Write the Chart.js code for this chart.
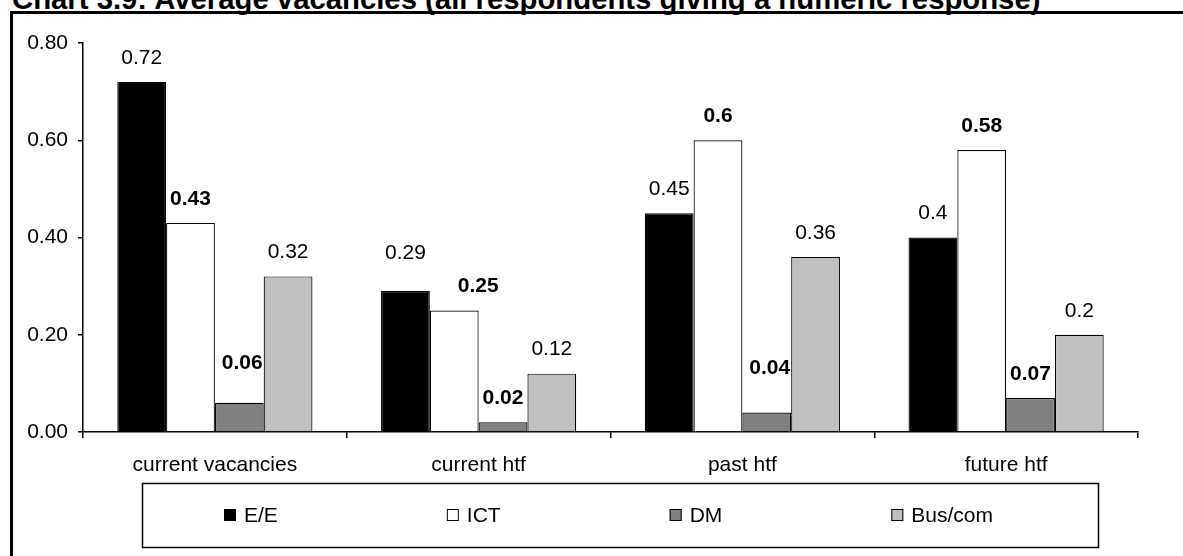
<!DOCTYPE html>
<html><head><meta charset="utf-8">
<script src="https://cdn.jsdelivr.net/npm/chart.js@4/dist/chart.umd.min.js"></script>
<style>
html,body{margin:0;padding:0;background:#fff;overflow:hidden;}
#wrap{position:relative;width:1183px;height:556px;overflow:hidden;background:#fff;}
#title{position:absolute;left:12px;top:-18px;font:bold 29.3px "Liberation Sans",Arial,sans-serif;white-space:nowrap;color:#000;line-height:34px;}
#frame{position:absolute;left:10px;top:11px;width:1300px;height:700px;border-left:3px solid #000;border-top:3px solid #000;}
canvas{position:absolute;left:0;top:0;}
</style></head>
<body><div id="wrap"><div id="title">Chart 3.9: Average vacancies (all respondents giving a numeric response)</div><div id="frame"></div><canvas id="c" width="1183" height="556"></canvas></div>
<script>
const categories = ['current vacancies', 'current htf', 'past htf', 'future htf'];
const seriesNames = ['E/E', 'ICT', 'DM', 'Bus/com'];
const eeValues = [0.72, 0.29, 0.45, 0.4];
const ictValues = [0.43, 0.25, 0.6, 0.58];
const dmValues = [0.06, 0.02, 0.04, 0.07];
const busValues = [0.32, 0.12, 0.36, 0.2];
const yTickValues = [0, 0.2, 0.4, 0.6, 0.8];

const FONT = '"Liberation Sans", Arial, sans-serif';
const FS = 21;
const seriesStyles = [
  {bg: '#000000', bold: false},
  {bg: '#ffffff', bold: true},
  {bg: '#808080', bold: true},
  {bg: '#c0c0c0', bold: false}
];
const seriesValues = [eeValues, ictValues, dmValues, busValues];

// extra nudges for individual value labels: key "dataset-index" -> [dx, extra dy]
const labelNudges = {'0-1': [0, -14], '2-0': [3, -16], '2-2': [3, -20], '1-1': [24, 0]};

const valueLabels = {
  id: 'valueLabels',
  afterDatasetsDraw(chart) {
    const ctx = chart.ctx;
    ctx.save();
    ctx.fillStyle = '#000';
    ctx.textAlign = 'center';
    ctx.textBaseline = 'middle';
    chart.data.datasets.forEach((ds, di) => {
      const meta = chart.getDatasetMeta(di);
      ctx.font = (ds.labelBold ? 'bold ' : '') + FS + 'px ' + FONT;
      meta.data.forEach((bar, i) => {
        const n = labelNudges[di + '-' + i] || [0, 0];
        ctx.fillText(String(ds.data[i]), bar.x + n[0], bar.y - 24 + n[1]);
      });
    });
    ctx.restore();
  }
};

const boxedLegend = {
  id: 'boxedLegend',
  afterDraw(chart) {
    const ctx = chart.ctx;
    const left = chart.chartArea.left + 59, top = 483, w = 956, h = 64;
    ctx.save();
    ctx.strokeStyle = '#000';
    ctx.lineWidth = 1.5;
    ctx.strokeRect(left + 0.5, top + 0.5, w, h);
    ctx.font = FS + 'px ' + FONT;
    ctx.textBaseline = 'middle';
    ctx.textAlign = 'left';
    const cy = top + h / 2;
    const box = 12, gap = 169;
    let x = left + 82;
    chart.data.datasets.forEach((ds) => {
      ctx.fillStyle = ds.backgroundColor;
      ctx.fillRect(x, cy - box / 2, box, box);
      ctx.lineWidth = 1;
      ctx.strokeRect(x + 0.5, cy - box / 2 + 0.5, box - 1, box - 1);
      ctx.fillStyle = '#000';
      ctx.fillText(ds.label, x + box + 8, cy + 1);
      x += box + 8 + ctx.measureText(ds.label).width + gap;
    });
    ctx.restore();
  }
};

const datasets = seriesNames.map((name, k) => ({
  label: name,
  data: seriesValues[k],
  backgroundColor: seriesStyles[k].bg,
  borderColor: '#000',
  borderWidth: 1.2,
  labelBold: seriesStyles[k].bold,
  categoryPercentage: 0.74,
  barPercentage: 1.0
}));

new Chart(document.getElementById('c'), {
  type: 'bar',
  data: {labels: categories, datasets},
  options: {
    responsive: false,
    animation: false,
    devicePixelRatio: 1,
    layout: {padding: {top: 43, right: 45, left: 0, bottom: 0}},
    plugins: {legend: {display: false}, title: {display: false}, tooltip: {enabled: false}},
    scales: {
      y: {
        min: 0, max: 0.8,
        afterFit(scale) { scale.width = 83; },
        afterBuildTicks(scale) { scale.ticks = yTickValues.map(v => ({value: v})); },
        ticks: {
          color: '#000', font: {family: FONT, size: FS}, padding: 10,
          callback: v => Number(v).toFixed(2)
        },
        grid: {drawOnChartArea: false, drawTicks: true, tickLength: 5, color: '#000', lineWidth: 1.5},
        border: {display: true, color: '#000', width: 1.5}
      },
      x: {
        afterFit(scale) { scale.height = 124; },
        ticks: {color: '#000', font: {family: FONT, size: FS}, padding: 15, maxRotation: 0},
        grid: {offset: true, drawOnChartArea: false, drawTicks: true, tickLength: 6, color: '#000', lineWidth: 1.5},
        border: {display: true, color: '#000', width: 1.5}
      }
    }
  },
  plugins: [valueLabels, boxedLegend]
});
</script>
</body></html>
